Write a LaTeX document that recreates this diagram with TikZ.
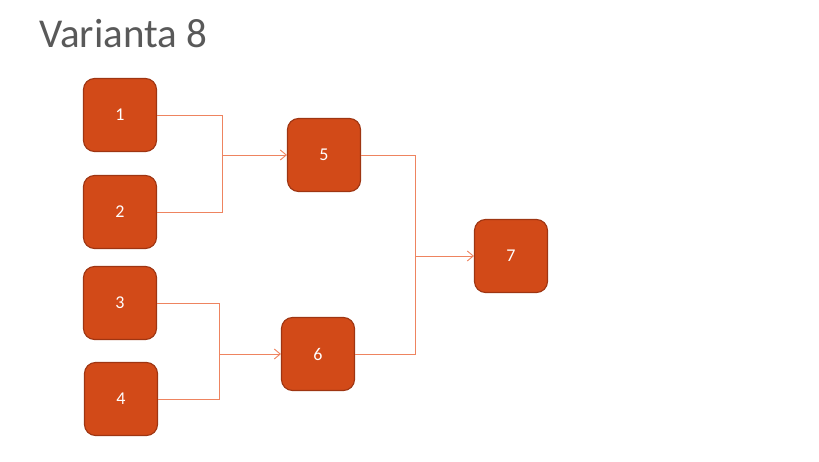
\documentclass[tikz,border=0pt]{standalone}
\usepackage{fontspec}
\setmainfont{Carlito}
\usetikzlibrary{arrows.meta}
\definecolor{boxfill}{HTML}{D24A18}
\definecolor{boxedge}{HTML}{9E3512}
\definecolor{linkc}{HTML}{EE8460}
\definecolor{titlec}{HTML}{595959}
\begin{document}
\begin{tikzpicture}[x=1pt,y=-1pt,
  box/.style={draw=boxedge,line width=1.1pt,fill=boxfill,rounded corners=11pt,
    minimum width=73pt,minimum height=73pt,inner sep=0pt,text=white,
    font=\fontsize{18}{20}\selectfont},
  link/.style={draw=linkc,line width=0.9pt},
  arr/.style={link,-{Straight Barb[length=6pt,width=10pt]}}]
\useasboundingbox (0,0) rectangle (819,462);
\node[anchor=base west,text=titlec,font=\fontsize{41}{46}\selectfont,inner sep=0pt] (title) at (39,48) {Varianta 8};
\node[box] (n1) at (120,115) {1};
\node[box] (n2) at (120,212) {2};
\node[box] (n3) at (120,303) {3};
\node[box] (n4) at (121,399) {4};
\node[box] (n5) at (324,155) {5};
\node[box] (n6) at (318,354) {6};
\node[box] (n7) at (511,256) {7};
\coordinate (j1) at (222,155);
\coordinate (j2) at (219,354);
\coordinate (j3) at (415,256);
\draw[link] (n1.east) -| (j1);
\draw[link] (n2.east) -| (j1);
\draw[arr] (j1) -- (n5.west);
\draw[link] (n3.east) -| (j2);
\draw[link] (n4.east) -| (j2);
\draw[arr] (j2) -- (n6.west);
\draw[link] (n5.east) -| (j3);
\draw[link] (n6.east) -| (j3);
\draw[arr] (j3) -- (n7.west);
\end{tikzpicture}
\end{document}
